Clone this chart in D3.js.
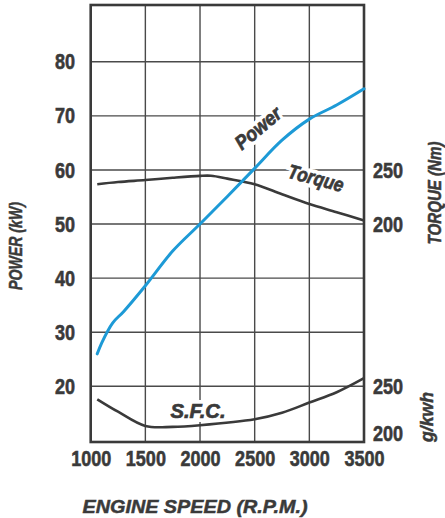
<!DOCTYPE html>
<html>
<head>
<meta charset="utf-8">
<script src="https://cdn.jsdelivr.net/npm/d3@7"></script>
<style>
  body { margin: 0; background: #fff; }
  svg text { font-family: "Liberation Sans", Arial, sans-serif; font-weight: bold; fill: #3a3a3a; }
</style>
</head>
<body>
<div id="chart"></div>
<script>
// Engine speed (rpm) and readings taken from the curve
const rpm = [1060, 1100, 1200, 1300, 1500, 1750, 2000, 2250, 2500, 2750, 3000, 3250, 3500];
const power = [26, 28, 31.7, 33.8, 38.6, 45, 50, 55.1, 60.3, 65.5, 69.4, 72, 75];        // kW
const torqueRpm = [1060, 1250, 1500, 1750, 2000, 2100, 2250, 2500, 2750, 3000, 3250, 3500];
const torque = [236.8, 238.8, 240.7, 242.8, 244.5, 244.6, 242, 236.8, 227.5, 218.5, 211, 203.3]; // Nm
const sfcRpm = [1060, 1250, 1500, 1750, 2000, 2500, 2750, 3000, 3250, 3500];
const sfc = [238, 226.5, 213.3, 212.5, 214, 219.5, 225.5, 235, 244.5, 257.5];            // g/kWh

const xTicks = [1000, 1500, 2000, 2500, 3000, 3500];
const powerTicks = [20, 30, 40, 50, 60, 70, 80];
const torqueTicks = [200, 250];
const sfcTicks = [200, 250];

const width = 445, height = 518;
const ink = "#3a3a3a";
const squeeze = "scale(0.82,1)"; // condensed look for the numerals

const svg = d3.select("#chart").append("svg")
    .attr("width", width)
    .attr("height", height);

// Scales
const x = d3.scaleLinear().domain([1000, 3500]).range([90.7, 364]);
const y = d3.scaleLinear().domain([9.7, 90.5]).range([442, 5]);
// torque and sfc share the power grid: 10 kW step = 50 units
const yTorque = d3.scaleLinear().domain([200, 250]).range([y(50), y(60)]);
const ySfc = d3.scaleLinear().domain([200, 250]).range([y(10), y(20)]);

// Grid
const grid = svg.append("g").attr("stroke", "#4a4a4a").attr("stroke-width", 1.4);
grid.selectAll("line.h")
    .data(powerTicks)
    .join("line")
    .attr("class", "h")
    .attr("x1", x(1000)).attr("x2", x(3500))
    .attr("y1", d => y(d)).attr("y2", d => y(d));
grid.selectAll("line.v")
    .data(xTicks.slice(1, -1))
    .join("line")
    .attr("class", "v")
    .attr("x1", d => x(d)).attr("x2", d => x(d))
    .attr("y1", y(90.5)).attr("y2", y(9.7));

// Curve labels with white halo so they break the grid lines
const label = (txt, cx, cy, rot, size, len) => {
    const g = svg.append("g").attr("transform", `translate(${cx},${cy}) rotate(${rot})`);
    const base = sel => sel
        .attr("text-anchor", "middle")
        .attr("dy", "0.35em")
        .attr("textLength", len)
        .attr("lengthAdjust", "spacingAndGlyphs")
        .style("font-style", "italic")
        .style("font-size", size + "px")
        .text(txt);
    g.append("text").call(base).attr("fill", "#fff").attr("stroke", "#fff").attr("stroke-width", 8);
    g.append("text").call(base).attr("stroke", ink).attr("stroke-width", 0.7);
    return g;
};

label("Power", 258, 128, -40, 20, 54);
label("Torque", 316, 178, 15, 20, 57);
label("S.F.C.", 198, 411, 0, 20, 55);

// Frame
svg.append("rect")
    .attr("x", x(1000)).attr("y", y(90.5))
    .attr("width", x(3500) - x(1000)).attr("height", y(9.7) - y(90.5))
    .attr("fill", "none")
    .attr("stroke", ink)
    .attr("stroke-width", 2.6);

// Curves
const curve = d3.curveCatmullRom;
svg.append("path")
    .datum(d3.zip(torqueRpm, torque))
    .attr("fill", "none")
    .attr("stroke", ink)
    .attr("stroke-width", 2.6)
    .attr("d", d3.line().x(d => x(d[0])).y(d => yTorque(d[1])).curve(curve));

svg.append("path")
    .datum(d3.zip(sfcRpm, sfc))
    .attr("fill", "none")
    .attr("stroke", ink)
    .attr("stroke-width", 2.6)
    .attr("d", d3.line().x(d => x(d[0])).y(d => ySfc(d[1])).curve(curve));

svg.append("path")
    .datum(d3.zip(rpm, power))
    .attr("fill", "none")
    .attr("stroke", "#1d9ad6")
    .attr("stroke-width", 3)
    .attr("stroke-linecap", "round")
    .attr("d", d3.line().x(d => x(d[0])).y(d => y(d[1])).curve(curve));

// Axes (labels only, no tick marks)
const styleTicks = g => g.selectAll("text")
    .style("font-size", "22px")
    .attr("fill", ink)
    .attr("stroke", ink)
    .attr("stroke-width", 0.6)
    .attr("transform", squeeze);

svg.append("g")
    .attr("transform", "translate(75,0)")
    .call(d3.axisLeft(y).tickValues(powerTicks).tickSize(0).tickPadding(0))
    .call(g => g.select(".domain").remove())
    .call(styleTicks);

svg.append("g")
    .attr("transform", "translate(0,450)")
    .call(d3.axisBottom(x).tickValues(xTicks).tickSize(0).tickPadding(0).tickFormat(d3.format("d")))
    .call(g => g.select(".domain").remove())
    .call(styleTicks);

svg.append("g")
    .attr("transform", "translate(373,0)")
    .call(d3.axisRight(yTorque).tickValues(torqueTicks).tickSize(0).tickPadding(0))
    .call(g => g.select(".domain").remove())
    .call(styleTicks);

svg.append("g")
    .attr("transform", "translate(373,0)")
    .call(d3.axisRight(ySfc).tickValues(sfcTicks).tickSize(0).tickPadding(0))
    .call(g => g.select(".domain").remove())
    .call(g => g.selectAll(".tick").filter(d => d === 200).select("text").attr("y", -7))
    .call(styleTicks);

// Axis titles
const title = (txt, tx, ty, rot, len) => svg.append("text")
    .attr("transform", `translate(${tx},${ty}) rotate(${rot})`)
    .attr("text-anchor", "middle")
    .attr("textLength", len)
    .attr("lengthAdjust", "spacingAndGlyphs")
    .attr("stroke", ink)
    .attr("stroke-width", 0.5)
    .style("font-style", "italic")
    .style("font-size", "18px")
    .text(txt);

title("POWER (kW)", 22, 246, -90, 88);
title("TORQUE (Nm)", 441, 193, -90, 103);
title("g/kwh", 433, 417, -90, 50);
title("ENGINE SPEED (R.P.M.)", 195, 513, 0, 225).style("font-size", "19px");
</script>
</body>
</html>
